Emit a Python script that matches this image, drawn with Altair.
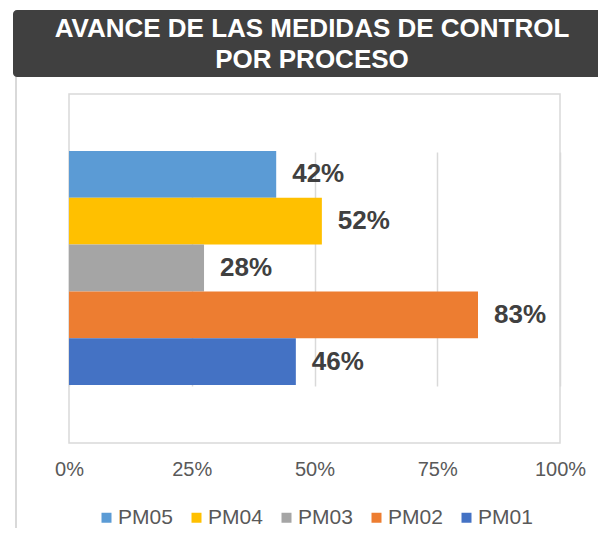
import altair as alt
import pandas as pd

series = ["PM05", "PM04", "PM03", "PM02", "PM01"]
values = [0.422, 0.515, 0.275, 0.833, 0.462]
labels = ["42%", "52%", "28%", "83%", "46%"]
colors = ["#5B9BD5", "#FFC000", "#A5A5A5", "#ED7D31", "#4472C4"]
tick_values = [0, 0.25, 0.5, 0.75, 1.0]
title_line1 = "AVANCE DE LAS MEDIDAS DE CONTROL"
title_line2 = "POR PROCESO"

df = pd.DataFrame({"serie": series, "valor": values, "etiqueta": labels})
one = alt.Data(values=[{}])

FONT = "Liberation Sans"

y_scale = alt.Scale(domain=series, paddingInner=0, paddingOuter=0, range=[57, 291])
y_enc = alt.Y("serie:N", sort=series, axis=None, scale=y_scale)
x_enc = alt.X("valor:Q",
              scale=alt.Scale(domain=[0, 1], nice=False, zero=True),
              axis=alt.Axis(values=tick_values, format=".0%", title=None,
                            labelFontSize=20, labelColor="#595959", labelFont=FONT,
                            labelPadding=16, ticks=False, tickSize=0, domain=False,
                            grid=True, gridColor="#D9D9D9", gridWidth=1.5,
                            labelFlush=False))

bars = alt.Chart(df).mark_bar().encode(
    x=x_enc,
    y=y_enc,
    color=alt.Color("serie:N", sort=series,
                    scale=alt.Scale(domain=series, range=colors),
                    legend=alt.Legend(title=None, orient="none", direction="horizontal",
                                      legendX=27, legendY=413,
                                      symbolType="square", symbolSize=100,
                                      symbolStrokeWidth=0, labelFontSize=21,
                                      labelColor="#595959", labelFont=FONT,
                                      columnPadding=13, labelOffset=1)),
)

text = alt.Chart(df).mark_text(align="left", baseline="middle", dx=16,
                               fontSize=26, fontWeight="bold", font=FONT,
                               color="#404040").encode(
    x="valor:Q",
    y=alt.Y("serie:N", sort=series, scale=y_scale, axis=None),
    text="etiqueta:N",
)

banner = alt.Chart(one).mark_rect(color="#404040", cornerRadius=4).encode(
    x=alt.value(-56), x2=alt.value(545), y=alt.value(-84), y2=alt.value(-17))

side = alt.Chart(one).mark_rule(color="#D9D9D9", strokeWidth=2).encode(
    x=alt.value(-53), y=alt.value(-17), y2=alt.value(460))

title1 = alt.Chart(one).mark_text(align="center", baseline="middle", fontSize=26,
                                  fontWeight="bold", font=FONT, color="white").encode(
    x=alt.value(243), y=alt.value(-65), text=alt.value(title_line1))

title2 = alt.Chart(one).mark_text(align="center", baseline="middle", fontSize=26,
                                  fontWeight="bold", font=FONT, color="white").encode(
    x=alt.value(243), y=alt.value(-34), text=alt.value(title_line2))

chart = alt.layer(side, banner, title1, title2, bars, text).properties(
    width=491, height=349,
    padding={"left": 61, "top": 86, "right": 38, "bottom": 85},
    autosize=alt.AutoSizeParams(type="none"),
    background="white",
).configure_view(stroke="#D9D9D9", strokeWidth=1.5)

chart.save("out.html", embed_options={"renderer": "svg", "actions": False})
